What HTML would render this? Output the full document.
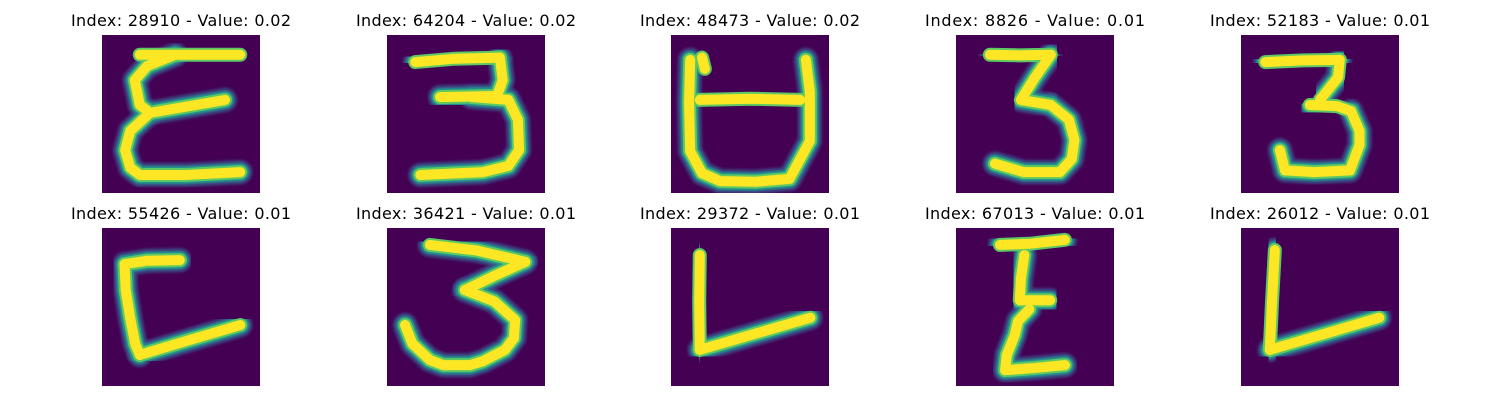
<!DOCTYPE html>
<html><head><meta charset="utf-8"><style>
html,body{margin:0;padding:0;background:#fff;width:1500px;height:400px;overflow:hidden}
text{font-family:"DejaVu Sans","Liberation Sans",sans-serif;font-size:16px;fill:#000}
</style></head><body>
<svg id="chart" width="1500" height="400" xmlns="http://www.w3.org/2000/svg">
<defs><filter id="bl" x="-20%" y="-20%" width="140%" height="140%"><feGaussianBlur stdDeviation="1.4"/></filter>
<filter id="bl2" x="-20%" y="-20%" width="140%" height="140%"><feGaussianBlur stdDeviation="0.7"/></filter></defs>
</svg>
<script>
const indices=[28910,64204,48473,8826,52183,55426,36421,29372,67013,26012];
const values=["0.02","0.02","0.02","0.01","0.01","0.01","0.01","0.01","0.01","0.01"];
// strokes per image, in 28x28 pixel units
const strokes=[
 [[[6.7,3.5],[24.5,3.5]],[[13,3.5],[8,5.5],[5.8,8],[6.7,12.4],[8.5,13.8],[21.8,11.5]],[[8.5,13.8],[5,17],[4.1,20.4],[5,23.5],[6.7,24.8],[15,24.8],[24.5,24.3]]],
 [[[5,4.8],[12,4.2],[20,4]],[[20,4],[20.5,8],[19.5,10.8],[9.4,11]],[[15,11],[21.5,11.5],[23.2,15],[23.4,20.4],[21.5,23.2],[17,24.3],[5.9,24.8]]],
 [[[3.4,4.4],[3.2,12],[3.4,20.6],[5.5,24.5],[8.7,25.9],[15,26],[21,25.5],[24.6,18.8],[24.6,10],[23.9,4.4]],[[5.1,11.5],[14,11.3],[22.9,11.5]],[[5.5,4],[6,6]]],
 [[[6,3.5],[11,3.6],[16.8,3.5]],[[16.8,3.5],[14,7.5],[11.5,11.5],[16.8,12.4]],[[16.8,12.4],[20,15],[21,18.6],[20.5,22],[18.4,24.3],[12,24.3],[6.9,22.8]]],
 [[[4.3,4.8],[11,4.5],[17.5,4.4]],[[17.5,4.4],[17.2,7.5],[14,11.5]],[[12.2,12.4],[17,12.6],[19.5,13.5]],[[19.5,13.5],[21,17],[21,19.5],[19.3,24],[13,24.3],[7.8,24],[6.9,20.4]]],
 [[[13.8,5.7],[8,5.8],[4,6.4],[4.2,11],[5,16],[5.9,20.6],[6.7,22.5]],[[6.7,22.5],[15,20],[24.5,17.2]]],
 [[[7.6,3],[16,4],[24.5,6]],[[24.5,6],[19,8.5],[13.8,11]],[[13.8,11],[19,13],[22.7,16.3],[22.5,19.5],[20.9,21.6],[17,23.6],[14.7,24.3],[10,24.3],[7.6,23.4],[4.5,20.5],[3.2,17.2]]],
 [[[5.1,4.8],[5,13],[5.1,21.6]],[[5.1,21.6],[14,19],[24.7,15.9]]],
 [[[7.8,3],[13,2.8],[19.3,2.1]],[[12.1,4.8],[11.5,9],[11.3,12.8],[16.7,12.8]],[[13,14.4],[11,16.5],[10.4,19],[9,22.5],[8.7,25.2],[14,24.8],[19.3,24.3]]],
 [[[6,3.9],[5.5,13],[5.1,21.6]],[[5.1,21.6],[14,19],[24.5,15.9]]]
];
const svg=document.getElementById('chart');
const NS='http://www.w3.org/2000/svg';
const colX=[102,387,671,956,1241], rowY=[35,228], S=158, U=S/28;
function sx(c,v){return colX[c]+v*U}
function sy(r,v){return rowY[r]+v*U}
for(let i=0;i<indices.length;i++){
 const c=i%5, r=Math.floor(i/5);
 const g=document.createElementNS(NS,'g');
 
 
 const t=document.createElementNS(NS,'text');
 
 
 t.setAttribute('x',colX[c]+S/2);t.setAttribute('y',rowY[r]-9);
 t.setAttribute('text-anchor','middle');t.setAttribute('textLength','220');
 t.textContent='Index: '+indices[i]+' - Value: '+values[i];
 g.appendChild(t);
 const bg=document.createElementNS(NS,'rect');
 
 
 bg.setAttribute('x',colX[c]);bg.setAttribute('y',rowY[r]);bg.setAttribute('width',S);bg.setAttribute('height',S);bg.setAttribute('fill','#440154');
 g.appendChild(bg);
 const cp='clip'+i;
 const clip=document.createElementNS(NS,'clipPath');clip.setAttribute('id',cp);
 const cr=document.createElementNS(NS,'rect');cr.setAttribute('x',colX[c]);cr.setAttribute('y',rowY[r]);cr.setAttribute('width',S);cr.setAttribute('height',S);
 clip.appendChild(cr);g.appendChild(clip);
 const layers=[['#3b528b',24,'url(#bl)',0.85],['#21918c',18,'url(#bl2)',1],['#5ec962',14,null,1],['#fde725',10,null,1]];
 for(const L of layers){
  for(const s of strokes[i]){
   const p=document.createElementNS(NS,'polyline');
   
   
   p.setAttribute('points',s.map(q=>sx(c,q[0])+','+sy(r,q[1])).join(' '));
   p.setAttribute('fill','none');p.setAttribute('stroke',L[0]);p.setAttribute('stroke-width',L[1]);
   p.setAttribute('stroke-linecap','round');p.setAttribute('stroke-linejoin','round');
   p.setAttribute('opacity',L[3]);
   if(L[2])p.setAttribute('filter',L[2]);
   p.setAttribute('clip-path','url(#'+cp+')');
   g.appendChild(p);
  }
 }
 svg.appendChild(g);
}
</script>
</body></html>
